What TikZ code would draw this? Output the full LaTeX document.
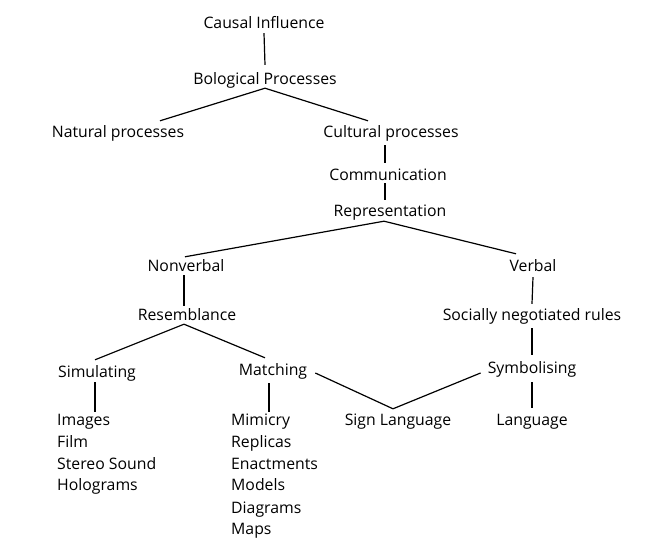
\documentclass[tikz,border=0pt]{standalone}
\usepackage{fontspec}
\setmainfont{Open Sans}
\begin{document}
\begin{tikzpicture}[x=1pt,y=-1pt,
  lbl/.style={inner sep=0pt,text height=14pt,text depth=0pt,font=\fontsize{15.8}{18}\selectfont},
  item/.style={lbl,anchor=west},
  conn/.style={line width=1.2pt,line cap=butt}]
\useasboundingbox[fill=white] (0,0) rectangle (657,548);
% nodes
\node[lbl] (ci)  at (264,22)  {Causal Influence};
\node[lbl] (bp)  at (265,78)  {Bological Processes};
\node[lbl] (np)  at (118,131) {Natural processes};
\node[lbl] (cul) at (391,131) {Cultural processes};
\node[lbl] (com) at (388,174) {Communication};
\node[lbl] (rep) at (390,210) {Representation};
\node[lbl] (nv)  at (186,265) {Nonverbal};
\node[lbl] (vb)  at (533,265) {Verbal};
\node[lbl] (res) at (187,314) {Resemblance};
\node[lbl] (snr) at (532,314) {Socially negotiated rules};
\node[lbl] (sim) at (97,371)  {Simulating};
\node[lbl] (mat) at (273,369) {Matching};
\node[lbl] (sym) at (532,367) {Symbolising};
\node[lbl] (sl)  at (398,419) {Sign Language};
\node[lbl] (lang) at (532,419) {Language};
\node[item] (s1) at (57,419)  {Images};
\node[item] (s2) at (57,441)  {Film};
\node[item] (s3) at (57,463)  {Stereo Sound};
\node[item] (s4) at (57,484)  {Holograms};
\node[item] (m1) at (231,419) {Mimicry};
\node[item] (m2) at (231,441) {Replicas};
\node[item] (m3) at (231,463) {Enactments};
\node[item] (m4) at (231,484) {Models};
\node[item] (m5) at (231,506) {Diagrams};
\node[item] (m6) at (231,527) {Maps};
% connectors
\draw[conn] ([shift={(0,4)}]ci.south) -- ([shift={(0,-6)}]bp.north);
\draw[conn] ([shift={(42,-3)}]np.north) -- ([shift={(0,3)}]bp.south) -- ([shift={(-23,-3)}]cul.north);
\draw[conn] ([shift={(-6,7)}]cul.south) -- ([shift={(-3,-4)}]com.north);
\draw[conn] ([shift={(-3,2)}]com.south) -- ([shift={(-5,-3)}]rep.north);
\draw[conn] ([shift={(-1,-1)}]nv.north) -- ([shift={(-6,4)}]rep.south) -- ([shift={(-17,-4)}]vb.north);
\draw[conn] ([shift={(-2,3)}]nv.south) -- ([shift={(-3,-1)}]res.north);
\draw[conn] ([shift={(0,5)}]vb.south) -- ([shift={(0,-3)}]snr.north);
\draw[conn] ([shift={(-2,-4)}]sim.north) -- ([shift={(-3,3)}]res.south) -- ([shift={(-8,-4)}]mat.north);
\draw[conn] ([shift={(0,7)}]snr.south) -- ([shift={(0,-5)}]sym.north);
\draw[conn] ([shift={(-2,4)}]sim.south) -- ([shift={(-2,0)}]sim.south |- s1.north);
\draw[conn] ([shift={(-4,7)}]mat.south) -- ([shift={(-4,0)}]mat.south |- m1.north);
\draw[conn] ([shift={(0,8)}]sym.south) -- ([shift={(0,-4)}]lang.north);
\draw[conn] ([shift={(8,4)}]mat.east) -- ([shift={(-5,-3)}]sl.north) -- ([shift={(-7,6)}]sym.west);
\end{tikzpicture}
\end{document}
